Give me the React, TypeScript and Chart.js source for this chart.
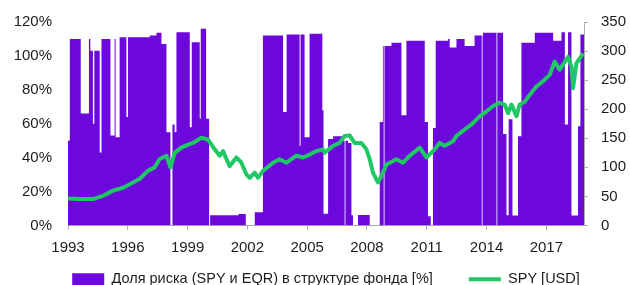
import React, { useEffect, useRef } from "react";
import { Chart, registerables } from "chart.js";

Chart.register(...registerables);

// ---- data ----
const spyYears = [
  1993.0, 1993.59, 1994.25, 1994.76, 1995.26, 1995.76, 1996.1, 1996.59, 1997.01, 1997.35,
  1997.59, 1997.94, 1998.14, 1998.35, 1998.69, 1999.02, 1999.27, 1999.69, 2000.02, 2000.36,
  2000.61, 2000.78, 2001.11, 2001.45, 2001.7, 2001.95, 2002.12, 2002.37, 2002.53, 2002.78,
  2003.29, 2003.62, 2003.96, 2004.46, 2004.79, 2005.13, 2005.46, 2005.79, 2005.88, 2006.3,
  2006.63, 2006.88, 2007.13, 2007.38, 2007.72, 2007.97, 2008.14, 2008.3, 2008.55, 2008.72,
  2008.98, 2009.48, 2009.81, 2010.15, 2010.65, 2010.98, 2011.4, 2011.64, 2011.9, 2012.32,
  2012.49, 2012.9, 2013.32, 2013.66, 2013.99, 2014.32, 2014.66, 2014.91, 2015.08, 2015.25,
  2015.5, 2015.66, 2015.92, 2016.17, 2016.5, 2016.83, 2017.17, 2017.42, 2017.67, 2018.09,
  2018.26, 2018.34, 2018.51, 2018.67, 2018.84,
];
const spyPrices = [
  46.6, 45.5, 45.5, 51, 60, 65, 71, 80, 94, 100,
  114, 120, 100, 125, 134, 139, 142, 151, 148, 131,
  120, 128, 102, 117, 108, 88, 82, 91, 82, 94,
  108, 114, 108, 120, 117, 122, 128, 131, 125, 137,
  142, 154, 155, 142, 142, 131, 114, 91, 74, 85,
  105, 114, 108, 120, 134, 117, 131, 142, 137, 145,
  154, 165, 176, 188, 196, 205, 211, 208, 193, 208,
  188, 208, 213, 225, 239, 248, 259, 282, 268, 290,
  273, 236, 279, 287, 296,
];

const riskYears = [
  1993.0, 1993.09, 1993.64, 1994.05, 1994.12, 1994.25, 1994.32, 1994.59, 1994.68, 1995.13,
  1995.34, 1995.39, 1995.59, 1995.93, 1996.01, 1997.1, 1997.44, 1997.69, 1997.94, 1998.14,
  1998.24, 1998.35, 1998.44, 1999.11, 1999.21, 1999.61, 1999.66, 1999.93, 2000.08, 2000.13,
  2001.28, 2001.56, 2001.92, 2002.37, 2002.78, 2003.79, 2003.97, 2004.62, 2004.67, 2004.87,
  2005.12, 2005.76, 2005.82, 2006.05, 2006.3, 2006.8, 2006.88, 2006.92, 2007.05, 2007.22,
  2007.3, 2007.55, 2008.14, 2008.64, 2008.8, 2008.84, 2008.88, 2009.23, 2009.73, 2009.98,
  2010.9, 2011.06, 2011.2, 2011.31, 2011.45, 2012.07, 2012.15, 2012.49, 2012.9, 2013.4,
  2013.76, 2013.8, 2013.82, 2014.5, 2014.54, 2014.83, 2015.0, 2015.11, 2015.3, 2015.58,
  2015.75, 2016.42, 2017.34, 2017.76, 2017.93, 2018.09, 2018.26, 2018.59, 2018.71, 2018.89,
];
const riskShare = [
  50, 110, 66, 110, 103, 60, 103, 43, 110, 53,
  110, 52, 111, 64, 111, 112, 113.6, 107, 55, 0,
  59.5, 55, 114, 58, 108, 63, 116, 63, 0, 6,
  6, 6.8, 0, 7.8, 112, 67, 112.6, 47, 112.6, 52,
  113, 68, 7, 51, 52.7, 50, 0, 50, 48.6, 6,
  0, 6.2, 0, 61, 105.8, 0, 105.8, 107.7, 65, 109,
  61, 5.5, 0, 57.5, 109, 110, 105, 110, 105.8, 112,
  0, 112, 113.6, 0, 113.6, 54, 6, 62.6, 5.9, 52.7,
  107.7, 113.6, 109, 114, 59.5, 114, 5.9, 58.5, 112.6, 112.6,
];

const xTickYears = [1993, 1996, 1999, 2002, 2005, 2008, 2011, 2014, 2017];
const legendLabels = ["Доля риска (SPY и EQR) в структуре фонда [%]", "SPY [USD]"];

const PURPLE = "#6c08db";
const GREEN = "#1fc864";
const GRAY = "#ababab";
const TEXT = "#1c1c1c";
const FONT = "'Liberation Sans', Arial, sans-serif";

// moves the legend block after layout (keeps the x-axis labels unclipped)
const legendShift = {
  id: "legendShift",
  afterLayout(chart: any) {
    const l = chart.legend;
    if (!l) return;
    l.top -= 19.5;
    l.bottom -= 19.5;
    l.left += 7;
    l.right += 7;
  },
};

export default function App() {
  const ref = useRef<HTMLCanvasElement>(null);

  useEffect(() => {
    if (!ref.current) return;
    const chart = new Chart(ref.current, {
      type: "line",
      plugins: [legendShift],
      data: {
        datasets: [
          {
            label: legendLabels[0],
            data: riskYears.map((x, i) => ({ x, y: riskShare[i] })),
            yAxisID: "y",
            stepped: true,
            fill: "origin",
            backgroundColor: PURPLE,
            borderColor: PURPLE,
            borderWidth: 0,
            pointRadius: 0,
            pointStyle: "rect",
            order: 2,
          },
          {
            label: legendLabels[1],
            data: spyYears.map((x, i) => ({ x, y: spyPrices[i] })),
            yAxisID: "y1",
            fill: false,
            borderColor: GREEN,
            backgroundColor: GREEN,
            borderWidth: 4,
            pointRadius: 0,
            pointStyle: "line",
            tension: 0,
            borderJoinStyle: "round",
            order: 1,
          },
        ],
      },
      options: {
        animation: false,
        responsive: true,
        maintainAspectRatio: false,
        layout: { padding: { top: 20, left: 8, right: 0, bottom: 0 } },
        plugins: {
          tooltip: { enabled: false },
          legend: {
            position: "bottom",
            labels: {
              usePointStyle: true,
              pointStyleWidth: 32,
              boxHeight: 12,
              padding: 36,
              color: TEXT,
              font: { size: 14.5, family: FONT },
              sort: (a: any, b: any) => a.datasetIndex - b.datasetIndex,
            },
          },
        },
        scales: {
          x: {
            type: "linear",
            min: 1993,
            max: 2018.89,
            afterBuildTicks: (s: any) => {
              s.ticks = xTickYears.map((v) => ({ value: v }));
            },
            afterFit: (s: any) => {
              s.height = 30;
            },
            ticks: {
              callback: (v: any) => String(v),
              color: TEXT,
              font: { size: 15, family: FONT },
              padding: 9,
              maxRotation: 0,
              autoSkip: false,
            },
            grid: { drawOnChartArea: false, tickLength: 4, color: GRAY },
            border: { color: GRAY },
          },
          y: {
            position: "left",
            min: 0,
            max: 120,
            ticks: {
              stepSize: 20,
              callback: (v: any) => v + "%",
              color: TEXT,
              font: { size: 15, family: FONT },
              padding: 8,
            },
            grid: { display: false },
            border: { display: false },
            afterFit: (s: any) => {
              s.width = 60;
            },
          },
          y1: {
            position: "right",
            min: 0,
            max: 350,
            ticks: {
              stepSize: 50,
              color: TEXT,
              font: { size: 15, family: FONT },
              padding: 13,
            },
            grid: { drawOnChartArea: false, tickLength: 4, color: GRAY },
            border: { color: GRAY },
            afterFit: (s: any) => {
              s.width = 46;
            },
          },
        },
      },
    });
    return () => chart.destroy();
  }, []);

  return (
    <div style={{ position: "fixed", left: 0, top: 0, width: 630, height: 316, background: "#fff" }}>
      <canvas ref={ref} />
    </div>
  );
}
